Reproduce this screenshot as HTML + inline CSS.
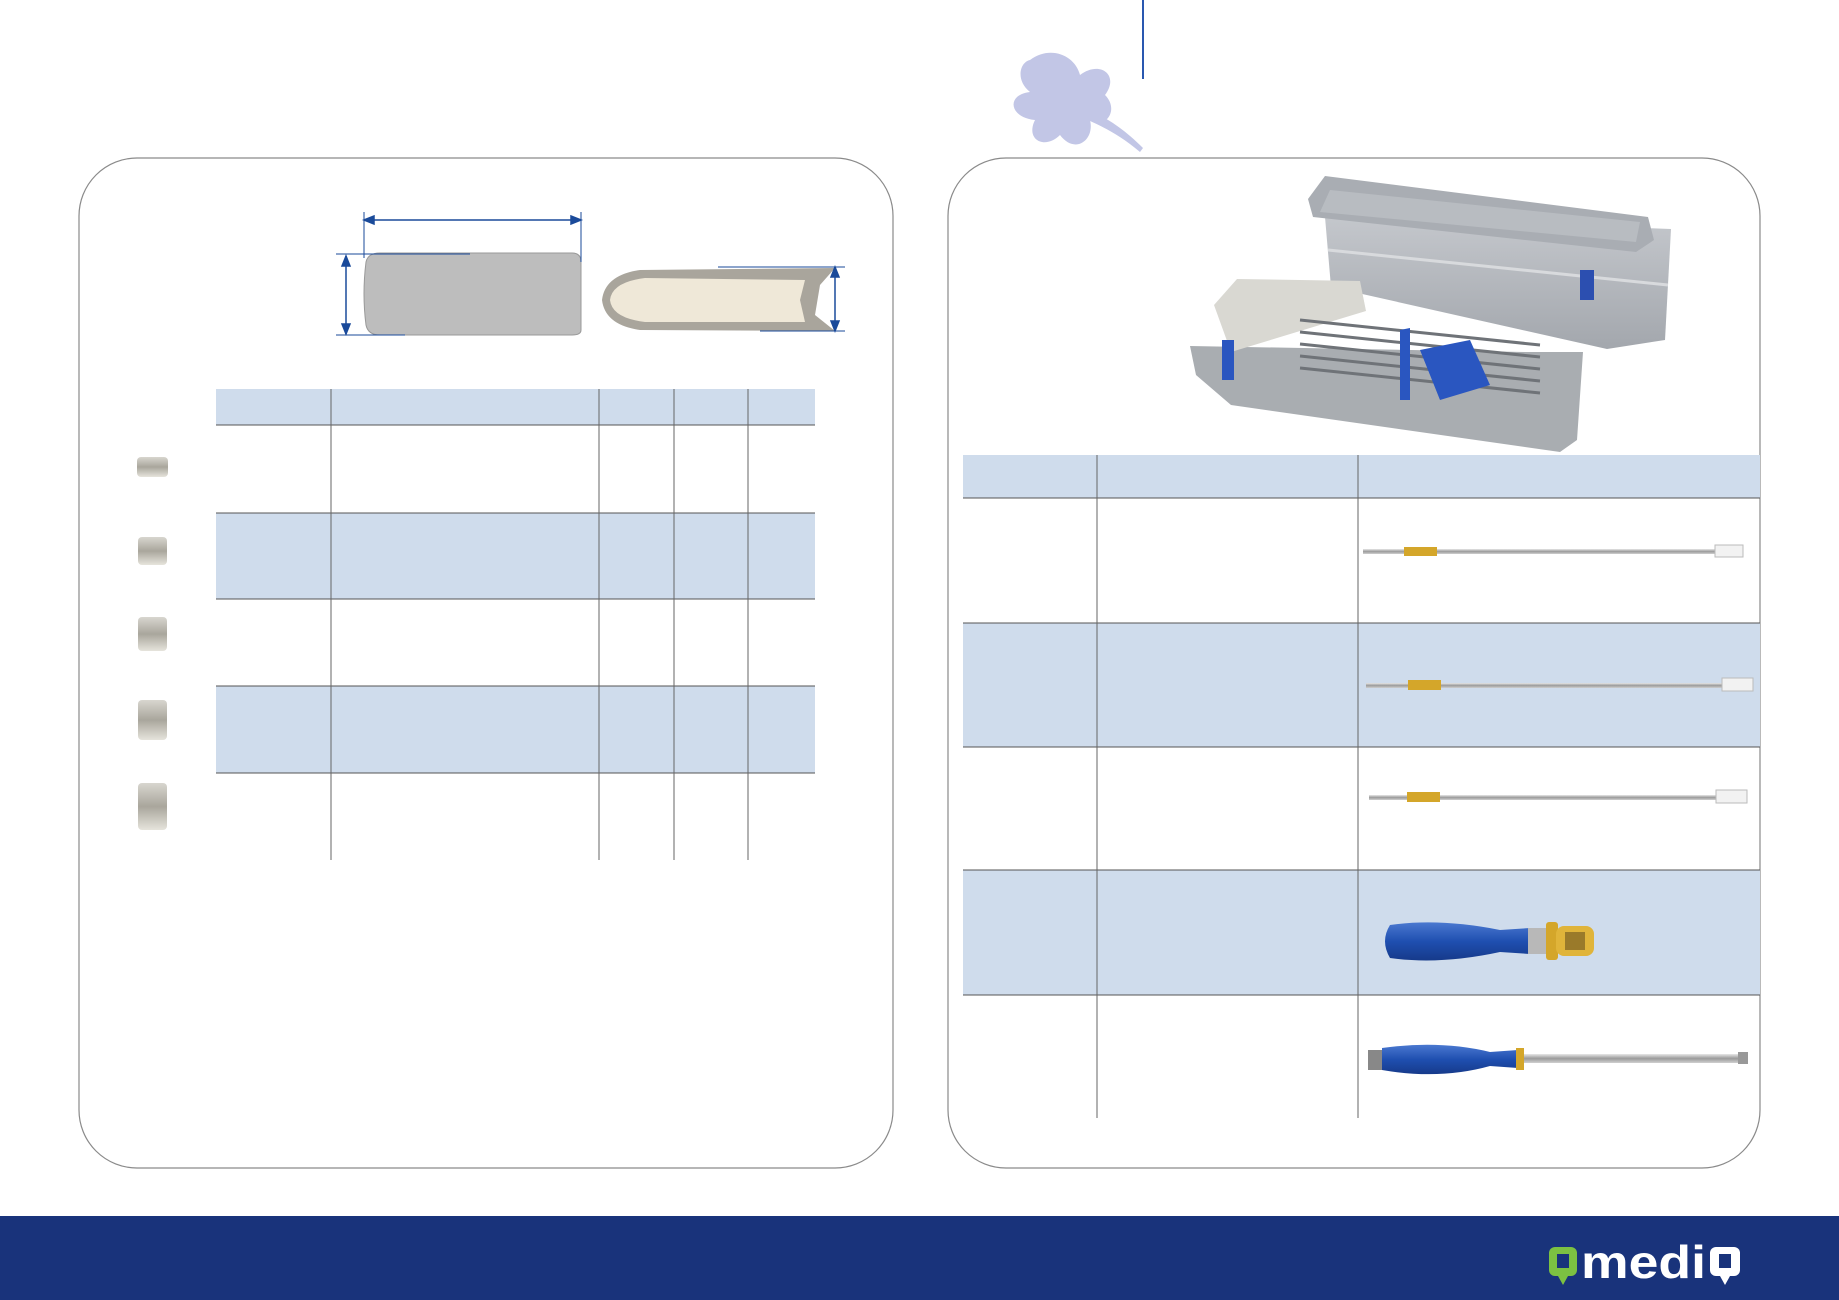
<!DOCTYPE html>
<html><head><meta charset="utf-8"><style>
html,body{margin:0;padding:0;background:#fff;}
body{width:1839px;height:1300px;position:relative;overflow:hidden;font-family:"Liberation Sans",sans-serif;}
</style></head><body>
<svg width="1839" height="1300" viewBox="0 0 1839 1300" xmlns="http://www.w3.org/2000/svg" style="position:absolute;left:0;top:0">
<defs>
<linearGradient id="rod" x1="0" y1="0" x2="0" y2="1"><stop offset="0" stop-color="#e8e8e8"/><stop offset="0.5" stop-color="#9a9a9a"/><stop offset="1" stop-color="#d0d0d0"/></linearGradient>
<linearGradient id="blue" x1="0" y1="0" x2="0" y2="1"><stop offset="0" stop-color="#4a78d0"/><stop offset="0.5" stop-color="#1f4fb0"/><stop offset="1" stop-color="#163a8a"/></linearGradient>
<linearGradient id="imp" x1="0" y1="0" x2="0" y2="1"><stop offset="0" stop-color="#d8d6cf"/><stop offset="0.5" stop-color="#a9a69c"/><stop offset="1" stop-color="#e6e4dc"/></linearGradient>
<linearGradient id="box" x1="0" y1="0" x2="0" y2="1"><stop offset="0" stop-color="#c4c7cc"/><stop offset="1" stop-color="#a3a7ad"/></linearGradient>
</defs>
<line x1="1143" y1="0" x2="1143" y2="79" stroke="#2a58b0" stroke-width="2"/>
<g fill="#c2c6e6">
<path d="M1030 60 C1050 45 1075 55 1080 75 C1100 60 1120 75 1105 95 C1120 110 1105 130 1090 120 C1095 140 1075 155 1060 135 C1045 150 1025 140 1035 120 C1010 118 1005 95 1030 92 C1015 80 1020 62 1030 60Z"/>
<path d="M1090 110 C1110 120 1125 130 1143 148 L1140 152 C1120 135 1105 128 1088 120Z"/>
</g>
<rect x="79" y="158" width="814" height="1010" rx="58" fill="none" stroke="#8a8a8a" stroke-width="1.2"/>
<rect x="948" y="158" width="812" height="1010" rx="58" fill="none" stroke="#8a8a8a" stroke-width="1.2"/>
<path d="M366 262 Q368 253 380 253 L572 253 Q581 253 581 262 L581 330 Q581 335 572 335 L380 335 Q368 335 366 325 Q362 294 366 262Z" fill="#bdbdbd" stroke="#999"/>
<path d="M602 300 Q605 275 640 270 L835 268 L820 285 L815 315 L835 331 L640 330 Q605 325 602 300Z" fill="#a9a59c"/>
<path d="M610 300 Q612 282 645 278 L805 280 L800 300 L805 322 L645 322 Q612 318 610 300Z" fill="#efe8d8"/>
<g stroke="#1a4a9a" stroke-width="1.5" fill="#1a4a9a">
<line x1="364" y1="220" x2="581" y2="220"/><polygon points="364,220 374,216 374,224"/><polygon points="581,220 571,216 571,224"/>
<line x1="364" y1="212" x2="364" y2="258" stroke-width="1"/><line x1="581" y1="212" x2="581" y2="262" stroke-width="1"/>
<line x1="346" y1="256" x2="346" y2="334"/><polygon points="346,256 342,266 350,266"/><polygon points="346,334 342,324 350,324"/>
<line x1="336" y1="254" x2="470" y2="254" stroke-width="1"/><line x1="336" y1="335" x2="405" y2="335" stroke-width="1"/>
<line x1="835" y1="267" x2="835" y2="331"/><polygon points="835,267 831,277 839,277"/><polygon points="835,331 831,321 839,321"/>
<line x1="718" y1="267" x2="845" y2="267" stroke-width="1"/><line x1="760" y1="331" x2="845" y2="331" stroke-width="1"/>
</g>
<rect x="216" y="389" width="599" height="36" fill="#cfdcec"/>
<rect x="216" y="513" width="599" height="86" fill="#cfdcec"/>
<rect x="216" y="686" width="599" height="87" fill="#cfdcec"/>
<g stroke="#555" stroke-width="1">
<line x1="216" y1="425" x2="815" y2="425"/><line x1="216" y1="513" x2="815" y2="513"/><line x1="216" y1="599" x2="815" y2="599"/><line x1="216" y1="686" x2="815" y2="686"/><line x1="216" y1="773" x2="815" y2="773"/>
</g>
<g stroke="#666" stroke-width="1">
<line x1="331" y1="389" x2="331" y2="860"/><line x1="599" y1="389" x2="599" y2="860"/><line x1="674" y1="389" x2="674" y2="860"/><line x1="748" y1="389" x2="748" y2="860"/>
</g>
<g fill="url(#imp)">
<rect x="137" y="457" width="31" height="20" rx="4"/>
<rect x="138" y="537" width="29" height="28" rx="4"/>
<rect x="138" y="617" width="29" height="34" rx="4"/>
<rect x="138" y="700" width="29" height="40" rx="4"/>
<rect x="138" y="783" width="29" height="47" rx="4"/>
</g>
<!-- tray image -->
<g>
<polygon points="1325,217 1671,229 1665,340 1607,349 1331,287" fill="url(#box)"/>
<line x1="1328" y1="250" x2="1668" y2="285" stroke="#d8dadd" stroke-width="3"/>
<polygon points="1308,199 1325,176 1648,217 1654,240 1636,252 1313,217" fill="#a9adb3"/>
<polygon points="1330,190 1640,222 1636,242 1320,212" fill="#b8bcc1"/>
<rect x="1580" y="270" width="14" height="30" fill="#2c4fb0"/>
<polygon points="1190,346 1525,352 1583,352 1577,440 1560,452 1231,405 1196,375" fill="#a9adb1"/>
<polygon points="1214,305 1237,279 1360,281 1366,311 1231,352" fill="#d9d8d2"/>
<g stroke="#6f7378" stroke-width="3"><line x1="1300" y1="320" x2="1540" y2="345"/><line x1="1300" y1="332" x2="1540" y2="357"/><line x1="1300" y1="344" x2="1540" y2="369"/><line x1="1300" y1="356" x2="1540" y2="381"/><line x1="1300" y1="368" x2="1540" y2="393"/></g>
<polygon points="1420,350 1470,340 1490,385 1440,400" fill="#2a56c0"/>
<polygon points="1400,330 1410,328 1410,400 1400,400" fill="#2a56c0"/>
<rect x="1222" y="340" width="12" height="40" fill="#2a56c0"/>
</g>
<rect x="963" y="455" width="797" height="43" fill="#cfdcec"/>
<rect x="963" y="623" width="797" height="124" fill="#cfdcec"/>
<rect x="963" y="870" width="797" height="125" fill="#cfdcec"/>
<g stroke="#555" stroke-width="1">
<line x1="963" y1="498" x2="1760" y2="498"/><line x1="963" y1="623" x2="1760" y2="623"/><line x1="963" y1="747" x2="1760" y2="747"/><line x1="963" y1="870" x2="1760" y2="870"/><line x1="963" y1="995" x2="1760" y2="995"/>
</g>
<g stroke="#666" stroke-width="1">
<line x1="1097" y1="455" x2="1097" y2="1118"/><line x1="1358" y1="455" x2="1358" y2="1118"/>
</g>
<g>
<rect x="1363" y="549" width="370" height="5" fill="url(#rod)"/><rect x="1404" y="547" width="33" height="9" fill="#d4a62a"/><rect x="1715" y="545" width="28" height="12" fill="#f2f2f2" stroke="#bbb"/>
<rect x="1366" y="683" width="375" height="5" fill="url(#rod)"/><rect x="1408" y="680" width="33" height="10" fill="#d4a62a"/><rect x="1722" y="678" width="31" height="13" fill="#f2f2f2" stroke="#bbb"/>
<rect x="1369" y="795" width="350" height="5" fill="url(#rod)"/><rect x="1407" y="792" width="33" height="10" fill="#d4a62a"/><rect x="1716" y="790" width="31" height="13" fill="#f2f2f2" stroke="#bbb"/>
<path d="M1390 925 Q1440 918 1500 930 L1530 928 L1530 954 L1500 952 Q1440 965 1390 958 Q1380 941 1390 925Z" fill="url(#blue)"/>
<rect x="1528" y="928" width="20" height="26" fill="#b8b8b8"/><rect x="1546" y="922" width="12" height="38" rx="3" fill="#d4a62a"/><rect x="1556" y="926" width="38" height="30" rx="8" fill="#e0b43a"/><rect x="1565" y="932" width="20" height="18" fill="#9a7a2a"/>
<rect x="1368" y="1050" width="14" height="20" fill="#888"/>
<path d="M1382 1048 Q1440 1040 1490 1052 L1518 1050 L1518 1068 L1490 1066 Q1440 1080 1382 1070Z" fill="url(#blue)"/>
<rect x="1516" y="1048" width="8" height="22" fill="#d4a62a"/><rect x="1524" y="1054" width="220" height="9" fill="url(#rod)"/><rect x="1738" y="1052" width="10" height="12" fill="#999"/>
</g>
<rect x="0" y="1216" width="1839" height="84" fill="#19337b"/>
<rect x="1549" y="1247" width="28" height="29" rx="6" fill="#7cc142"/><rect x="1557" y="1254" width="12" height="14" fill="#19337b"/><polygon points="1558,1276 1568,1276 1563,1285" fill="#7cc142"/>
<text x="1581" y="1278" font-family="Liberation Sans,sans-serif" font-weight="bold" font-size="46" fill="#fff" textLength="125" lengthAdjust="spacingAndGlyphs">medi</text>
<rect x="1710" y="1247" width="30" height="29" rx="6" fill="#fff"/><rect x="1719" y="1254" width="12" height="14" fill="#19337b"/><polygon points="1720,1276 1730,1276 1725,1285" fill="#fff"/>
</svg>
</body></html>
